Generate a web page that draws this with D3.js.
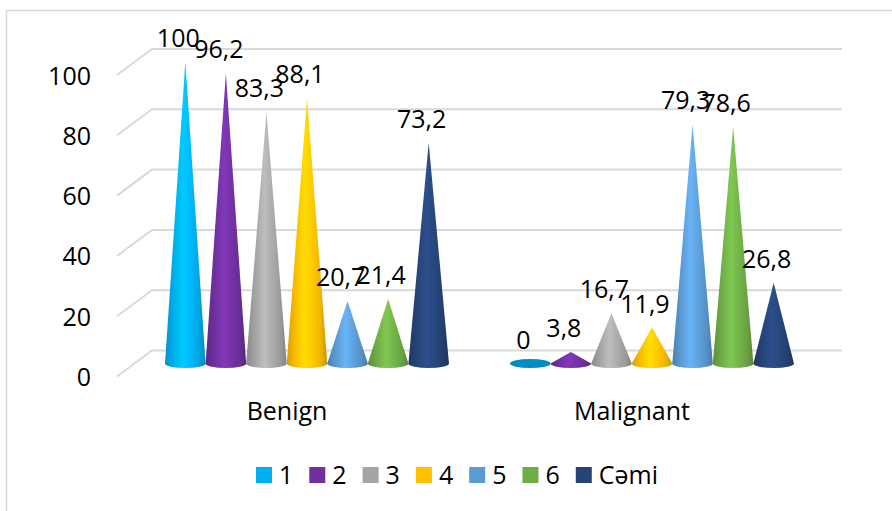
<!DOCTYPE html>
<html>
<head>
<meta charset="utf-8">
<script src="https://cdn.jsdelivr.net/npm/d3@7"></script>
<style>
  html, body { margin: 0; padding: 0; background: #fff; }
  svg text { font-family: "Open Sans", Lato, sans-serif; fill: #000; }
</style>
</head>
<body>
<svg id="chart" width="892" height="511"></svg>
<script>
// Categories, series and values
const categories = ["Benign", "Malignant"];
const seriesNames = ["1", "2", "3", "4", "5", "6", "Cəmi"];
const seriesColors = ["#00B0F0", "#7030A0", "#A5A5A5", "#FFC000", "#5B9BD5", "#70AD47", "#264478"];
const benignValues = [100, 96.2, 83.3, 88.1, 20.7, 21.4, 73.2];
const malignantValues = [0, 3.8, 16.7, 11.9, 79.3, 78.6, 26.8];
const yTicks = [0, 20, 40, 60, 80, 100];

const valuesByCategory = [benignValues, malignantValues];
const fmt = v => String(v).replace(".", ",");

const svg = d3.select("#chart");
const FONT = 25;

// Oblique 3D depth: cones stand mid-depth, back wall and front edge offset
const depthX = 17.5, depthY = -13;

// Plane of the cones
const x0 = d3.scaleBand().domain(categories).range([134.5, 824.5])
  .paddingInner(0.177).paddingOuter(0.0885);
const x1 = d3.scaleBand().domain(seriesNames).range([0, x0.bandwidth()]);
const y = d3.scaleLinear().domain([0, 100]).range([363.5, 62]);

// Outer frame
svg.append("rect")
  .attr("x", 6.5).attr("y", 10.5).attr("width", 1000).attr("height", 1000)
  .attr("fill", "none").attr("stroke", "#d9d9d9").attr("stroke-width", 1.5);

// Gradients for cone shading
const defs = svg.append("defs");
seriesColors.forEach((c, i) => {
  const base = d3.color(c);
  const g = defs.append("linearGradient").attr("id", "cone" + i)
    .attr("x1", "0%").attr("x2", "100%").attr("y1", "0%").attr("y2", "0%");
  [[0, base.darker(0.55)], [0.18, base.darker(0.1)], [0.45, base.brighter(0.4)],
   [0.62, base.brighter(0.15)], [0.85, base.darker(0.2)], [1, base.darker(0.7)]]
    .forEach(([o, col]) => g.append("stop").attr("offset", o).attr("stop-color", col.formatHex()));
});

// Gridlines: front edge -> back wall -> across the back wall
const xLeft = x0.range()[0];
const xRight = x0.range()[1];
const grid = svg.append("g").attr("class", "grid");
yTicks.forEach(v => {
  const yb = y(v) + depthY, yf = y(v) - depthY;
  grid.append("path")
    .attr("d", d3.line()([[xLeft - depthX, yf], [xLeft + depthX, yb], [xRight + depthX, yb]]))
    .attr("fill", "none").attr("stroke", "#d9d9d9").attr("stroke-width", 2);
});

// Value axis labels on the front edge
const yAxis = d3.axisLeft(d3.scaleLinear().domain([0, 100]).range([y(0) - depthY, y(100) - depthY]))
  .tickValues(yTicks).tickSize(0).tickPadding(0);
const yAxisG = svg.append("g").attr("transform", `translate(${xLeft - depthX - 26},0)`).call(yAxis);
yAxisG.select(".domain").remove();
yAxisG.selectAll("text").attr("font-size", FONT).attr("font-family", "'Open Sans', sans-serif")
  .attr("fill", "#000").attr("dy", "0.36em");

// Cones
const ry = 4.5;
const r = x1.bandwidth() / 2;
const cones = svg.append("g");
const labels = svg.append("g");
categories.forEach((cat, ci) => {
  valuesByCategory[ci].forEach((v, si) => {
    const cx = x0(cat) + x1(seriesNames[si]) + r;
    const by = y(0);
    const ty = y(v);
    if (v === 0) {
      cones.append("ellipse").attr("cx", cx).attr("cy", by).attr("rx", r).attr("ry", ry)
        .attr("fill", d3.color(seriesColors[si]).darker(0.6).formatHex());
    } else {
      cones.append("path")
        .attr("d", `M${cx - r},${by} L${cx},${ty} L${cx + r},${by} A${r},${ry} 0 0 1 ${cx - r},${by} Z`)
        .attr("fill", `url(#cone${si})`);
    }
    labels.append("text")
      .attr("x", cx - 7).attr("y", ty - 15)
      .attr("text-anchor", "middle").attr("font-size", FONT)
      .text(fmt(v));
  });
});

// Category labels along the front of the floor
svg.append("g").selectAll("text").data(categories).join("text")
  .attr("x", d => x0(d) + x0.bandwidth() / 2 - 20)
  .attr("y", 420)
  .attr("text-anchor", "middle").attr("font-size", FONT)
  .text(d => d);

// Legend
const legend = svg.append("g");
let lx = 256;
seriesNames.forEach((name, i) => {
  legend.append("rect").attr("x", lx).attr("y", 467).attr("width", 16).attr("height", 16)
    .attr("fill", seriesColors[i]);
  const t = legend.append("text").attr("x", lx + 23).attr("y", 484)
    .attr("font-size", FONT).text(name);
  lx += 23 + t.node().getComputedTextLength() + 16;
});
</script>
</body>
</html>
